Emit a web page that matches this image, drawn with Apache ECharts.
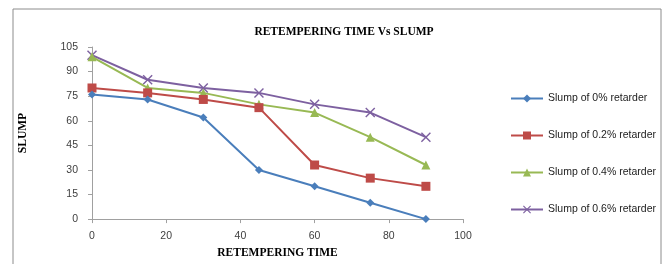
<!DOCTYPE html>
<html>
<head>
<meta charset="utf-8">
<script src="https://cdn.jsdelivr.net/npm/echarts@6/dist/echarts.min.js"></script>
<style>
  html, body { margin: 0; padding: 0; background: #fff; }
  #chart { width: 665px; height: 264px; }
</style>
</head>
<body>
<div id="chart"></div>
<script>
  // retempering time (min)
  var timeList = [0, 15, 30, 45, 60, 75, 90];
  var seriesNames = ['Slump of 0% retarder', 'Slump of 0.2% retarder', 'Slump of 0.4% retarder', 'Slump of 0.6% retarder'];
  var slump0 = [76, 73, 62, 30, 20, 10, 0];
  var slump02 = [80, 77, 73, 68, 33, 25, 20];
  var slump04 = [99, 80, 77, 70, 65, 50, 33];
  var slump06 = [100, 85, 80, 77, 70, 65, 50];

  var colorList = ['#4a7ebb', '#be4b48', '#98b954', '#7d60a0'];
  var symbolList = ['diamond', 'rect', 'triangle',
    'path://M0,1L1,0L5,4L9,0L10,1L6,5L10,9L9,10L5,6L1,10L0,9L4,5Z'];
  var sizeList = [8, 9, 9, 10];
  var valueList = [slump0, slump02, slump04, slump06];

  var chart = echarts.init(document.getElementById('chart'));
  var series = [];
  for (var i = 0; i < valueList.length; i++) {
    series.push({
      type: 'line',
      name: seriesNames[i],
      data: timeList.map(function (t, j) { return [t, valueList[i][j]]; }),
      symbol: symbolList[i],
      symbolSize: sizeList[i],
      showAllSymbol: true,
      itemStyle: { color: colorList[i] },
      lineStyle: { color: colorList[i], width: 2 },
      z: 10 - i
    });
  }

  var axisFont = { fontFamily: 'Liberation Sans', fontSize: 10.5, color: '#404040' };
  var option = {
    animation: false,
    graphic: [{
      type: 'rect',
      shape: { x: 13, y: 9, width: 648, height: 270 },
      style: { fill: 'none', stroke: '#8c8c8c', lineWidth: 1 },
      silent: true
    }],
    title: {
      text: 'RETEMPERING TIME Vs SLUMP',
      left: 339,
      textAlign: 'center',
      top: 21,
      textStyle: { fontFamily: 'Liberation Serif', fontWeight: 'bold', fontSize: 11.5, color: '#000' }
    },
    legend: {
      orient: 'vertical',
      left: 505,
      top: 88,
      itemWidth: 32,
      itemHeight: 10,
      itemGap: 26,
      textStyle: { fontFamily: 'Liberation Sans', fontSize: 10.5, color: '#222' },
      data: seriesNames
    },
    grid: { left: 92, right: 202, top: 47, bottom: 41 },
    xAxis: {
      type: 'value',
      min: 0, max: 100, interval: 20,
      name: 'RETEMPERING TIME',
      nameLocation: 'middle',
      nameGap: 27,
      nameTextStyle: { fontFamily: 'Liberation Serif', fontWeight: 'bold', fontSize: 11.5, color: '#000' },
      axisLine: { lineStyle: { color: '#a0a0a0' } },
      axisTick: { show: true, length: 4, lineStyle: { color: '#a0a0a0' } },
      axisLabel: Object.assign({ margin: 12 }, axisFont),
      splitLine: { show: false }
    },
    yAxis: {
      type: 'value',
      min: 0, max: 105, interval: 15,
      name: 'SLUMP',
      nameLocation: 'middle',
      nameGap: 63,
      nameRotate: 90,
      nameTextStyle: { fontFamily: 'Liberation Serif', fontWeight: 'bold', fontSize: 11.5, color: '#000' },
      axisLine: { show: true, lineStyle: { color: '#a0a0a0' } },
      axisTick: { show: true, length: 4, lineStyle: { color: '#a0a0a0' } },
      axisLabel: Object.assign({ margin: 14 }, axisFont),
      splitLine: { show: false }
    },
    series: series
  };
  chart.setOption(option);
</script>
</body>
</html>
